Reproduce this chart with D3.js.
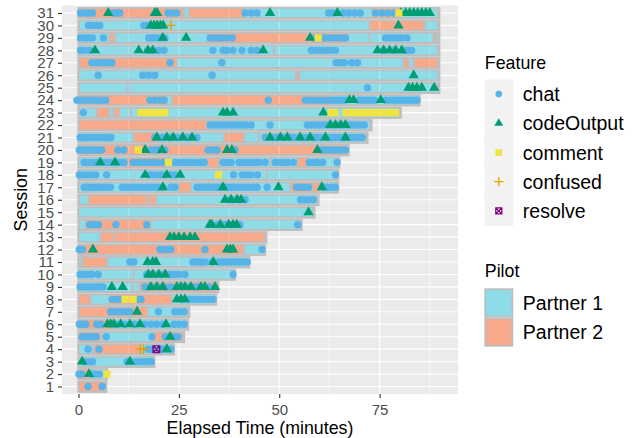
<!DOCTYPE html>
<html><head><meta charset="utf-8">
<script src="https://cdn.jsdelivr.net/npm/d3@7"></script>
<style>
body{margin:0;background:#fff;}
svg{display:block;font-family:"Liberation Sans",Arial,sans-serif;}
</style></head>
<body>
<svg id="c" width="639" height="438"></svg>
<script>
const sessions = [1,2,3,4,5,6,7,8,9,10,11,12,13,14,15,16,17,18,19,20,21,22,23,24,25,26,27,28,29,30,31];
const sessionEnd = [6.6,6.8,18.6,23.5,26,27,27.3,34,34.5,38.7,42.3,46.2,46.5,55.3,58.5,59.5,64.4,64.4,64.7,67,71.7,72.7,80,84.7,89.6,89.6,89.6,89.6,89.6,89.6,89.6];
// [start, end, pilot]
const pilotSegments = [
 [[0,6.6,2]],
 [[0,3,2],[3,6.8,1]],
 [[0,18.6,1]],
 [[0,3.8,1],[3.8,15.5,2],[15.5,23.5,1]],
 [[0,5.7,2],[5.7,18.8,1],[18.8,26,2]],
 [[0,9,2],[9,27,1]],
 [[0,17.2,2],[17.2,27.3,1]],
 [[0,3,2],[3,7.6,1],[7.6,23.2,2],[23.2,34,1]],
 [[0,13.5,1],[13.5,15.2,1],[15.2,34.5,2]],
 [[0,13.7,1],[13.7,38.7,1]],
 [[0,0.9,1],[0.9,7.2,2],[7.2,42.3,1]],
 [[0,41.2,2],[41.2,46.2,1]],
 [[0,5.5,1],[5.5,8.8,2],[8.8,46.5,2]],
 [[0,1.8,1],[1.8,18,2],[18,55.3,1]],
 [[0,58.5,1]],
 [[0,2.5,1],[2.5,17.2,2],[17.5,19.3,2],[19.3,59.5,1]],
 [[0,25,1],[25,28,2],[28,52.8,1],[52.8,58.3,2],[58.3,60,2],[60,64.4,1]],
 [[0,47,1],[47,64.4,1]],
 [[0,12,1],[12,22.3,2],[22.3,32,1],[32,35,2],[35,47.8,1],[47.8,54.5,1],[54.5,57,2],[57,64.7,1]],
 [[0,67,2]],
 [[0,13.7,1],[13.7,20,2],[20,36.2,1],[36.2,41.2,2],[41.2,45,1],[45,71.7,1]],
 [[0,32,2],[32,72.7,1]],
 [[0,4.5,1],[4.5,7.7,2],[7.7,8.8,1],[8.8,10.2,2],[10.2,13,1],[13,80,1]],
 [[0,22,2],[22,23.3,1],[23.3,63,2],[63,84.7,1]],
 [[0,12.3,1],[12.3,89.6,1]],
 [[0,54.2,1],[54.2,55,2],[55,89.6,1]],
 [[0,24.5,2],[24.5,81,1],[81,82.3,2],[82.3,83.5,1],[83.5,89.6,2]],
 [[0,48.7,1],[48.7,89.6,1]],
 [[0,7.7,1],[7.7,9,2],[9,32.3,1],[32.3,67,2],[67,72.5,1],[72.5,88.5,1],[88.5,89.2,2],[89.2,89.6,1]],
 [[0,72.5,1],[72.5,86.2,2],[86.2,89.6,1]],
 [[0,26.2,2],[26.2,27.5,1],[27.5,41,2],[41,73.2,1],[73.2,79.7,2],[79.7,89.6,1]]
];
const chatTimes = [
 [2.4,5.9],
 [0.1,0.8,3.3,4.2,5.2],
 [1.5,2.5,3.5,12.1,13.2,14.3,15.3,16.4,17.4,18.1],
 [2.4,5.1,17.3,18.3,20.3,21.2,22.2,23],
 [0.9,1.8,2.7,3.6,4.4,6.9,18.3,21.6,23.8,24.8],
 [0.2,1,1.8,4.5,5.5,9.5,11.5,14,16.5,18,19.5,21,23.8,25,26.3],
 [8,9,10,11,12,12.8,19.9,24,25,26.3],
 [8.4,9.5,10.5,14.8,15.6,26,27.5,28.5,29.5,30.5,31.5,32.5,33.5],
 [0.4,1.4,2.4,3.4,4.4,5.3,6.1,16.5,17.5,18.5,20,21.5,23,24.5,26,27.5,29,30,32.5],
 [0.4,1.3,2.3,3.3,4.9,17,18,19,20.5,22,23,24,25,26.5,38.5],
 [12.8,13.8,28.5,29.5,30.5,31.5,33.3,35,36,37,38,39,40,41,42],
 [0.2,1,20.3,21.3,22.3,23,31.5,45.7],
 [],
 [2.8,3.8,5,9.3,17,34.5,35.8,36.5,38,40.2,54.6],
 [],
 [37.5,38.5,40,41.5,55.3,56.3,57.3,58.5],
 [1.4,2.3,3.2,4.1,5,6,7,8,10.9,11.9,12.9,13.9,14.9,15.9,16.9,17.9,18.9,19.9,21,23,24,29.5,30.5,31.5,32.5,33.5,34.5,35.5,36.5,37.5,38.5,39.5,40.5,41.5,42.5,43.5,44.5,47,54.3,55.3,56.3,57.3,61,62,63,64],
 [0.2,1.2,2.2,3.2,4.3,7,17.5,18.5,19.5,20.5,21.5,23,24,38.6,40.8,42,43,44.6,64],
 [1.4,2.4,3.4,4.4,5.4,6.4,7.4,8.4,9.4,10.4,11.3,13.6,14.6,15.6,16.6,17.6,18.6,19.6,21,24,25,26,27,28,29,30.3,31.3,36,37,38,40,41,42,43,44,45,46.5,49,50,51,52,53.5,57.5,58.5,59.5,60.8,64.4],
 [0.2,1,1.8,2.6,3.4,4.2,5,5.8,9.8,11.3,18,19,20,21.5,32.3,33.3,34.5,39,60.5,61.5,62.5,63.5,64.5,65.5,66.5],
 [0.4,1.3,2.2,3.1,4,4.9,5.8,6.7,7.5,8.1,19,20,21,22.5,23.2,24.5,25.5,27,28,29.5,46.5,47.5,48.5,49.5,51,52.5,53.5,55,56,57,58.5,59.5,60.5,62,63,64,65,66,67,68,69,70,70.7],
 [32.8,33.8,34.8,35.8,36.8,37.8,38.8,39.8,40.8,41.8,43,47.7,57,58,59,60,61,62,63,64,65,66,67,68,69,70,71.2],
 [1.2],
 [-0.4,0.5,1.4,2.3,3.2,4.1,5,5.9,6.8,17.8,19,20.2,21.3,47.3,56.5,57.5,58.5,59.5,60.5,61.5,62.5,63.5,64.5,65.5,66.5,69.8,70.8,71.8,72.8,73.8,76.6,77.6,78.6,79.6,80.4,81.3,82.3,83.3,84.3],
 [72],
 [4.9,16,17.5,19,33.3],
 [3.3,4.3,5.3,6.3,7.3,8.3,22.8,35.7,64.2,65.2,66.2,68,69.5],
 [0.5,1.5,2.8,17.2,18.5,20,21.3,33.5,36,37,38.5,40.7,43,44.5,58,59,60,61,62,63,64,76,78.5,81,82,83],
 [0.5,1.5,2.5,3.5,6.2,17.5,18.5,19.5,20.5,21.5,32.8,34,35,36,37,38.3,58.8,60.3,61.3,62.3,63.3,64.3,65.5,66.5,76.5,77.5,78.5,79.5,80.5,81.8],
 [2.5,3.5,4.5,5.3,16.3,17],
 [0.5,1.5,2.5,3.5,8.6,9.6,10.3,22.3,23.3,24.5,41.5,43,44.5,62.3,63.5,66,67.3,68.8,70.2,74,75.5,77,78.5]
];
const codeOutputTimes = [
 [],[2.6],[0.9,12.8],[22],[22.8],[7.2,8,8.8,10.5,12.8,15.3,21.8],[14.6],[24.5,25.5,26.5],
 [8.3,11,18,19.5,21,24.5,25.5,26.5,28,30.5,31.5,34],[17.4,18.5,20,21.6],[17.2,18.5,19.3,33.6],
 [3.6,37,37.8,38.5],[22.8,23.8,25,26.3,27.8,29],[32.7,33.2,35.3,37.4,38.5,39.4],[57.3],
 [36.5,38,39.5,40.5],[21,36,49.8,60.6],[16.6,22,25.3],[5.4,9.1],[16.6,20.8,37,38.2,59.5],
 [19.5,22,23.6,26,28.3,47.7,50.3,52,55.2,57.7,61.5,66.5],[62.7,64,65.3,66.5],[36,37,38.5,61],
 [67.5,68.5,75.3],[82.2,83.2,84.3,85.5,88.6],[83.5],[],[4.1,15,17.3,18.5,46,74.5,76,77.5,79,80.5],
 [21,26.8,57.7],[18,18.8,19.6,20.4,21.1,79.7],[7.4,19,19.6,47.7,64.5,80.3,81.5,82.5,83.5,84.5,85.5,86.5,87.5]
];
const commentTimes = [
 [],[7.1],[],[],[],[],[],[11.6,13.6],[],[],[],[],[],[],[],[],[],[34.9],[22.4],[14.9],[],[],
 [15.5,16.3,17.2,18.2,19,19.9,20.8,21.5,62.9,63.9,66.6,67.5,68.5,69.5,70.5,71.5,72.5,73.5,74.5,75.5,76.5,77.5,78.3,79],
 [],[],[],[],[],[59.7],[],[79.8]
];
const confusedTimes = [[],[],[],[15.4,16.2],[],[],[],[],[],[],[],[],[],[],[],[],[],[],[],[],[],[],[],[],[],[],[],[],[],[23],[]];
const resolveTimes = [[],[],[],[19.4],[],[],[],[],[],[],[],[],[],[],[],[],[],[],[],[],[],[],[],[],[],[],[],[],[],[],[]];
const xTicks = [0,25,50,75];
const featureNames = ["chat","codeOutput","comment","confused","resolve"];
const pilotNames = ["Partner 1","Partner 2"];

const featureColor = {chat:"#56B4E9", codeOutput:"#009E73", comment:"#F0E442", confused:"#E69F00", resolve:"#800080"};
const pilotColor = d3.scaleOrdinal().domain([1,2]).range(["#8DDCE8","#F8A98A"]);
const frameColor = "#BEBEBE";

const svg = d3.select("#c");
const P = {l:62, r:458, t:5.5, b:394};
const x = d3.scaleLinear().domain([-4.11, 94.53]).range([P.l, P.r]);
const y = d3.scalePoint().domain(sessions).range([P.b, P.t]).padding(0.6);

// panel
svg.append("rect").attr("x",P.l).attr("y",P.t).attr("width",P.r-P.l).attr("height",P.b-P.t).attr("fill","#EBEBEB");
const minorTicks = d3.pairs(xTicks.concat([100])).map(p=>(p[0]+p[1])/2);
const grid = svg.append("g");
grid.selectAll(".mn").data(minorTicks).join("line").attr("x1",d=>x(d)).attr("x2",d=>x(d)).attr("y1",P.t).attr("y2",P.b).attr("stroke","#fff").attr("stroke-width",0.55);
grid.selectAll(".mj").data(xTicks).join("line").attr("x1",d=>x(d)).attr("x2",d=>x(d)).attr("y1",P.t).attr("y2",P.b).attr("stroke","#fff").attr("stroke-width",1.1);
grid.selectAll(".hy").data(sessions).join("line").attr("x1",P.l).attr("x2",P.r).attr("y1",d=>y(d)).attr("y2",d=>y(d)).attr("stroke","#fff").attr("stroke-width",1.1);

// frames
const step = y.step();
svg.append("g").selectAll("rect").data(sessions).join("rect")
  .attr("x", x(0)-1.2).attr("y", d=>y(d)-step/2+0.3)
  .attr("width", (d,i)=>x(sessionEnd[i])-x(0)+3.4).attr("height", step-0.2)
  .attr("fill", frameColor);

// segments
const segData = [];
pilotSegments.forEach((segs,i)=>segs.forEach(s=>segData.push({session:sessions[i], start:s[0], end:s[1], pilot:s[2]})));
const segH = 8.4;
const defs = svg.append("defs");
const cp = defs.append("clipPath").attr("id","segclip");
cp.selectAll("rect").data(segData).join("rect")
  .attr("x",d=>x(d.start)+1.1).attr("y",d=>y(d.session)-segH/2)
  .attr("width",d=>Math.max(0.8,x(d.end)-x(d.start)-2.2)).attr("height",segH);
svg.append("g").selectAll("rect").data(segData).join("rect")
  .attr("x",d=>x(d.start)+1.1).attr("y",d=>y(d.session)-segH/2)
  .attr("width",d=>Math.max(0.8,x(d.end)-x(d.start)-2.2)).attr("height",segH)
  .attr("fill",d=>pilotColor(d.pilot));
// gridlines faintly visible through bars
const gs = svg.append("g").attr("clip-path","url(#segclip)");
gs.selectAll(".a").data(minorTicks).join("line").attr("x1",d=>x(d)).attr("x2",d=>x(d)).attr("y1",P.t).attr("y2",P.b).attr("stroke","#fff").attr("stroke-opacity",0.3).attr("stroke-width",0.8);
gs.selectAll(".b").data(xTicks).join("line").attr("x1",d=>x(d)).attr("x2",d=>x(d)).attr("y1",P.t).attr("y2",P.b).attr("stroke","#fff").attr("stroke-opacity",0.3).attr("stroke-width",1.4);

// points
function flat(arr){const o=[];arr.forEach((ts,i)=>ts.forEach(t=>o.push({session:sessions[i], t})));return o;}
const triPath = d3.symbol(d3.symbolTriangle, 46)();
const gP = svg.append("g");
gP.selectAll(".chat").data(flat(chatTimes)).join("circle")
  .attr("cx",d=>x(d.t)).attr("cy",d=>y(d.session)).attr("r",3.7).attr("fill",featureColor.chat);
gP.selectAll(".code").data(flat(codeOutputTimes)).join("path")
  .attr("d",triPath).attr("transform",d=>`translate(${x(d.t)},${y(d.session)})`).attr("fill",featureColor.codeOutput);
gP.selectAll(".cm").data(flat(commentTimes)).join("rect")
  .attr("x",d=>x(d.t)-3.6).attr("y",d=>y(d.session)-3.6).attr("width",7.2).attr("height",7.2).attr("fill",featureColor.comment);
gP.selectAll(".cf").data(flat(confusedTimes)).join("path")
  .attr("d","M-4.8,0H4.8M0,-4.8V4.8").attr("transform",d=>`translate(${x(d.t)},${y(d.session)})`)
  .attr("stroke",featureColor.confused).attr("stroke-width",1.4).attr("fill","none");
gP.selectAll(".rs").data(flat(resolveTimes)).join("path")
  .attr("d","M-3.3,-3.3H3.3V3.3H-3.3ZM-3.3,-3.3L3.3,3.3M3.3,-3.3L-3.3,3.3").attr("transform",d=>`translate(${x(d.t)},${y(d.session)})`)
  .attr("stroke",featureColor.resolve).attr("stroke-width",1.4).attr("fill","none");

// axes
const ax = svg.append("g").attr("transform",`translate(0,${P.b})`).call(d3.axisBottom(x).tickValues(xTicks).tickSize(4).tickPadding(6));
const ay = svg.append("g").attr("transform",`translate(${P.l},0)`).call(d3.axisLeft(y).tickSize(4).tickPadding(4));
[ax,ay].forEach(a=>{
  a.select(".domain").remove();
  a.selectAll(".tick line").attr("stroke","#333333").attr("stroke-width",1.1);
  a.selectAll(".tick text").attr("fill","#4D4D4D").style("font-size","15px").style("font-family","'Liberation Sans',Arial,sans-serif");
});

svg.append("text").attr("x",(P.l+P.r)/2).attr("y",434).attr("text-anchor","middle").style("font-size","17.8px").attr("fill","#000").text("Elapsed Time (minutes)");
svg.append("text").attr("transform",`translate(27,${(P.t+P.b)/2}) rotate(-90)`).attr("text-anchor","middle").style("font-size","17.8px").attr("fill","#000").text("Session");

// legend: Feature
const L = {x:484.3, keyW:29, keyH:29.2};
svg.append("text").attr("x",L.x+0.5).attr("y",69).style("font-size","17.8px").text("Feature");
const fTop = 79.5;
const lf = svg.append("g");
featureNames.forEach((f,i)=>{
  const cy = fTop + i*L.keyH + L.keyH/2;
  const cx = L.x + L.keyW/2;
  lf.append("rect").attr("x",L.x).attr("y",fTop+i*L.keyH).attr("width",L.keyW).attr("height",L.keyH+0.5).attr("fill","#F2F2F2");
  if(f==="chat") lf.append("circle").attr("cx",cx).attr("cy",cy).attr("r",3.3).attr("fill",featureColor.chat);
  if(f==="codeOutput") lf.append("path").attr("d",d3.symbol(d3.symbolTriangle,34)()).attr("transform",`translate(${cx},${cy})`).attr("fill",featureColor.codeOutput);
  if(f==="comment") lf.append("rect").attr("x",cx-3.3).attr("y",cy-3.3).attr("width",6.6).attr("height",6.6).attr("fill",featureColor.comment);
  if(f==="confused") lf.append("path").attr("d","M-4.6,0H4.6M0,-4.6V4.6").attr("transform",`translate(${cx},${cy})`).attr("stroke",featureColor.confused).attr("stroke-width",1.3);
  if(f==="resolve") lf.append("path").attr("d","M-3,-3H3V3H-3ZM-3,-3L3,3M3,-3L-3,3").attr("transform",`translate(${cx},${cy})`).attr("stroke",featureColor.resolve).attr("stroke-width",1.3).attr("fill","none");
  lf.append("text").attr("x",L.x+38.5).attr("y",cy).attr("dy","0.36em").style("font-size","19.5px").text(f);
});

// legend: Pilot
svg.append("text").attr("x",L.x+0.5).attr("y",277).style("font-size","17.8px").text("Pilot");
const pTop = 288.3;
pilotNames.forEach((p,i)=>{
  const yy = pTop + i*L.keyH;
  svg.append("rect").attr("x",L.x+0.9).attr("y",yy+0.9).attr("width",L.keyW-1.8).attr("height",L.keyH-1.8)
    .attr("fill",pilotColor(i+1)).attr("stroke",frameColor).attr("stroke-width",1.8);
  svg.append("text").attr("x",L.x+38.5).attr("y",yy+L.keyH/2).attr("dy","0.36em").style("font-size","19.5px").text(p);
});
</script>
</body></html>
